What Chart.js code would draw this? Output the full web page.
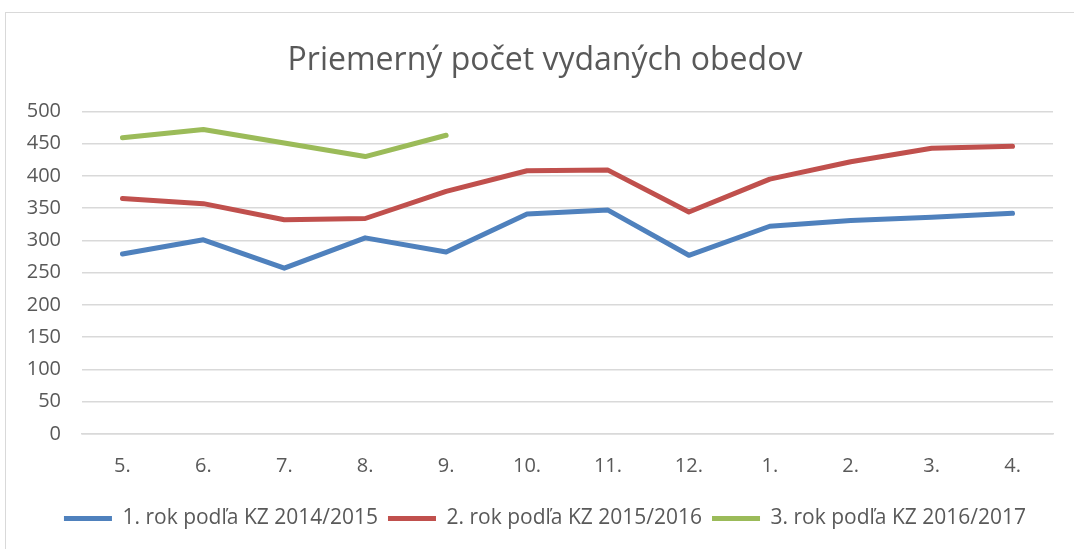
<!DOCTYPE html>
<html>
<head>
<meta charset="utf-8">
<script src="https://cdn.jsdelivr.net/npm/chart.js@4/dist/chart.umd.min.js"></script>
<style>
  html, body { margin: 0; padding: 0; background: #fff; }
  #wrap { position: relative; width: 1074px; height: 549px; overflow: hidden; }
  #frame { position: absolute; left: 5px; top: 12px; width: 1200px; height: 700px; border: 1px solid #d9d9d9; }
  #chart { position: absolute; left: 0; top: 0; }
</style>
</head>
<body>
<div id="wrap">
  <div id="frame"></div>
  <canvas id="chart" width="1090" height="549"></canvas>
</div>
<script>
// mesiace školského roka
const months = ['5.', '6.', '7.', '8.', '9.', '10.', '11.', '12.', '1.', '2.', '3.', '4.'];

// priemerný počet vydaných obedov
const rok1 = [279, 301, 257, 304, 282, 341, 347, 277, 322, 331, 336, 342];
const rok2 = [365, 357, 332, 334, 376, 408, 409, 344, 395, 422, 443, 446];
const rok3 = [459, 472, 451, 430, 463, null, null, null, null, null, null, null];

const seriesNames = ['1. rok podľa KZ 2014/2015', '2. rok podľa KZ 2015/2016', '3. rok podľa KZ 2016/2017'];
const yTicks = [0, 50, 100, 150, 200, 250, 300, 350, 400, 450, 500];

const textColor = '#595959';
const gridColor = '#d9d9d9';

function lineSet(label, data, color) {
    return {
        label: label,
        data: data,
        borderColor: color,
        backgroundColor: color,
        borderWidth: 5,
        borderCapStyle: 'round',
        borderJoinStyle: 'round',
        pointRadius: 0,
        pointHoverRadius: 0,
        tension: 0,
        spanGaps: false,
        fill: false
    };
}

const ctx = document.getElementById('chart').getContext('2d');

new Chart(ctx, {
    type: 'line',
    data: {
        labels: months,
        datasets: [
            lineSet(seriesNames[0], rok1, '#4f81bd'),
            lineSet(seriesNames[1], rok2, '#c0504d'),
            lineSet(seriesNames[2], rok3, '#9bbb59')
        ]
    },
    options: {
        responsive: false,
        animation: false,
        layout: {
            padding: { left: 0, right: 0, top: 0, bottom: 10 }
        },
        plugins: {
            tooltip: { enabled: false },
            title: {
                display: true,
                text: 'Priemerný počet vydaných obedov',
                color: textColor,
                font: { family: 'Open Sans', size: 32, weight: 'normal' },
                padding: { top: 42, bottom: 31 }
            },
            legend: {
                position: 'bottom',
                labels: {
                    color: textColor,
                    font: { family: 'Open Sans', size: 21 },
                    usePointStyle: true,
                    pointStyle: 'line',
                    pointStyleWidth: 48,
                    padding: 10
                }
            }
        },
        scales: {
            x: {
                offset: true,
                grid: { display: false, drawTicks: false },
                border: { display: true, color: gridColor, width: 1.5 },
                ticks: {
                    color: textColor,
                    font: { family: 'Open Sans', size: 20 },
                    padding: 20,
                    maxRotation: 0,
                    autoSkip: false
                },
                afterFit: function(scale) { scale.height = 64; }
            },
            y: {
                min: 0,
                max: 500,
                afterBuildTicks: function(scale) {
                    scale.ticks = yTicks.map(v => ({ value: v }));
                },
                grid: { color: gridColor, lineWidth: 1.5, drawTicks: false },
                border: { display: false },
                ticks: {
                    color: textColor,
                    font: { family: 'Open Sans', size: 20 },
                    padding: 21
                },
                afterFit: function(scale) { scale.width = 82; }
            },
            // prazdna os vpravo, aby nadpis a legenda boli v strede ramu
            yRight: {
                position: 'right',
                grid: { display: false, drawTicks: false },
                border: { display: false },
                ticks: { display: false },
                afterFit: function(scale) { scale.width = 37; }
            }
        }
    }
});
</script>
</body>
</html>
